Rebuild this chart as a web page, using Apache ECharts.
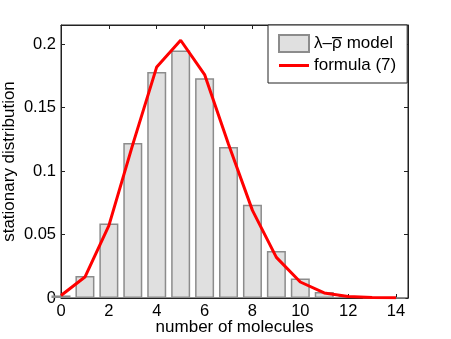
<!DOCTYPE html>
<html>
<head>
<meta charset="utf-8">
<script src="https://cdn.jsdelivr.net/npm/echarts@6/dist/echarts.min.js"></script>
<style>
  html, body { margin: 0; padding: 0; background: #fff; }
  #chart { width: 451px; height: 339px; }
</style>
</head>
<body>
<div id="chart"></div>
<script>
// molecules count 0..14
const molecules = [0, 1, 2, 3, 4, 5, 6, 7, 8, 9, 10, 11, 12, 13, 14]
// lambda-rho model (bars)
const modelValues = [0.002, 0.0174, 0.0587, 0.122, 0.178, 0.195, 0.173, 0.119, 0.0734, 0.0371, 0.0153, 0.0047, 0.0015, 0.0004, 0.0001]
// formula (7) (red line)
const formulaValues = [0.002, 0.0165, 0.057, 0.121, 0.182, 0.203, 0.176, 0.121, 0.069, 0.032, 0.0126, 0.004, 0.0012, 0.0003, 0.0001]
const xTicks = [0, 2, 4, 6, 8, 10, 12, 14]
const yTicks = [0, 0.05, 0.1, 0.15, 0.2]

const fontFamily = '"Liberation Sans", Arial, sans-serif'
const axisColor = '#222'
const modelName = '\u03bb\u2013\u03c1 model'
const formulaName = 'formula (7)'

// small image used as background of the rho, gives the overline
const overline = document.createElement('canvas')
overline.width = 10
overline.height = 17
const octx = overline.getContext('2d')
octx.fillStyle = '#000'
octx.fillRect(0, 2, 10, 1.3)

const chart = echarts.init(document.getElementById('chart'))

const frameAxis = {
  axisLine: { show: true, onZero: false, lineStyle: { color: axisColor, width: 1 } },
  axisTick: { show: true, inside: true, length: 4, lineStyle: { color: axisColor } },
  splitLine: { show: false },
}

chart.setOption({
  animation: false,
  textStyle: { fontFamily },
  grid: {
    left: 61, right: 43, top: 25, bottom: 41,
    outerBoundsMode: 'none',
    show: true,
    borderColor: axisColor,
    borderWidth: 1,
    backgroundColor: 'rgba(0,0,0,0)',
  },
  legend: {
    left: 268,
    top: 25,
    orient: 'vertical',
    backgroundColor: '#fff',
    borderColor: axisColor,
    borderWidth: 1,
    padding: [9, 11, 9, 10],
    itemWidth: 30,
    itemHeight: 17,
    itemGap: 4,
    itemTextGap: 7,
    textStyle: {
      fontSize: 17,
      color: '#000',
      fontFamily,
      lineHeight: 17,
      rich: {
        rho: { fontSize: 17, fontFamily, color: '#000', lineHeight: 17, backgroundColor: { image: overline } },
      },
    },
    formatter: name => (name === modelName ? '\u03bb\u2013{rho|\u03c1} model' : name),
    data: [
      { name: modelName, icon: 'rect' },
      { name: formulaName, icon: 'path://M0,0 L0,0 M0,7 L30,7 L30,10 L0,10 Z M30,17 L30,17' },
    ],
  },
  xAxis: [
    {
      ...frameAxis,
      type: 'value',
      min: 0,
      max: 14.5,
      interval: 2,
      name: 'number of molecules',
      nameLocation: 'middle',
      nameGap: 21,
      nameMoveOverlap: false,
      nameTextStyle: { fontSize: 17, color: '#000', fontFamily },
      axisLabel: {
        fontSize: 16.5,
        color: '#000',
        margin: 5,
        showMaxLabel: false,
        formatter: v => (xTicks.includes(v) ? String(v) : ''),
      },
    },
    {
      ...frameAxis,
      type: 'value',
      position: 'top',
      min: 0,
      max: 14.5,
      interval: 2,
      axisLabel: { show: false },
    },
  ],
  yAxis: [
    {
      ...frameAxis,
      type: 'value',
      min: 0,
      max: 0.215,
      interval: 0.05,
      name: 'stationary distribution',
      nameLocation: 'middle',
      nameGap: 43,
      nameMoveOverlap: false,
      nameTextStyle: { fontSize: 17, color: '#000', fontFamily },
      // only the split line at the top edge is visible: it closes the box
      splitLine: {
        show: true,
        lineStyle: {
          width: 1,
          color: ['rgba(0,0,0,0)', 'rgba(0,0,0,0)', 'rgba(0,0,0,0)', 'rgba(0,0,0,0)', 'rgba(0,0,0,0)', axisColor],
        },
      },
      axisLabel: {
        fontSize: 16.5,
        color: '#000',
        margin: 5,
        showMaxLabel: false,
        formatter: v => {
          const t = yTicks.find(y => Math.abs(y - v) < 1e-9)
          return t === undefined ? '' : String(t)
        },
      },
    },
    {
      ...frameAxis,
      type: 'value',
      position: 'right',
      min: 0,
      max: 0.215,
      interval: 0.05,
      axisLabel: { show: false },
    },
  ],
  series: [
    {
      name: modelName,
      type: 'bar',
      barWidth: 19,
      clip: true,
      itemStyle: { color: '#e0e0e0', borderColor: '#8c8c8c', borderWidth: 1.5 },
      data: molecules.map((m, i) => [m, modelValues[i]]),
    },
    {
      name: formulaName,
      type: 'line',
      symbol: 'none',
      clip: true,
      lineStyle: { color: '#ff0000', width: 3 },
      itemStyle: { color: '#ff0000' },
      data: molecules.map((m, i) => [m, formulaValues[i]]),
      z: 3,
    },
  ],
})
</script>
</body>
</html>
